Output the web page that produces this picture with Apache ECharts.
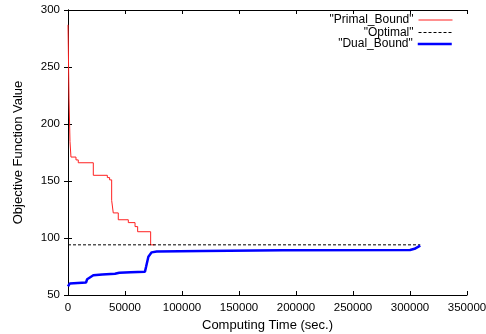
<!DOCTYPE html>
<html>
<head>
<meta charset="utf-8">
<script src="https://cdn.jsdelivr.net/npm/echarts@6/dist/echarts.min.js"></script>
<style>html,body{margin:0;padding:0;background:#fff;}#c{width:486px;height:334px;}</style>
</head>
<body>
<div id="c"></div>
<script>
// ---- data ----
const primalTime  = [0, 900, 1750, 2600, 7000, 9000, 22200, 34500, 36500, 38300, 39700, 44100, 52900, 58800, 61100, 72500, 76000];
const primalValue = [287, 222, 184.5, 171, 168.5, 166, 155, 153, 151, 133, 122, 116, 113.5, 110, 105.5, 94, 94];

const optimalTime  = [0, 309000];
const optimalValue = [94, 94];

const dualTime  = [0, 1500, 3000, 15800, 16800, 22200, 30000, 41200, 45000, 55000, 67500, 68500, 70500, 73400, 77800, 118000, 188000, 300000, 304000, 309000];
const dualValue = [57.5, 60, 60.8, 61, 63.8, 67.3, 68, 68.6, 69.5, 70, 70.5, 74.8, 83.6, 87.4, 88.2, 88.7, 89.3, 89.5, 90.5, 93.3];

const xTicks = [0, 50000, 100000, 150000, 200000, 250000, 300000, 350000];
const yTicks = [50, 100, 150, 200, 250, 300];

const seriesNames = ['"Primal_Bound"', '"Optimal"', '"Dual_Bound"'];

// ---- build ----
const zip = (a, b) => a.map((t, i) => [t, b[i]]);
const FONT = 'Liberation Sans';

const tickCfg = { show: true, inside: true, length: 4, lineStyle: { color: '#000', width: 1 } };
const axLine = { show: true, lineStyle: { color: '#000', width: 1 } };
const plain = v => String(v);

function legendFor(i, top, width) {
  return {
    data: [seriesNames[i]], right: 33, top: top, padding: 0, align: 'right',
    itemWidth: 34, itemHeight: 12,
    itemStyle: { opacity: 0 },
    textStyle: { color: '#000', fontSize: 12, fontFamily: FONT },
    lineStyle: { width: width }
  };
}

const chart = echarts.init(document.getElementById('c'), null, { renderer: 'canvas' });
chart.setOption({
  animation: false,
  backgroundColor: '#fff',
  grid: { left: 68, right: 19, top: 10, bottom: 39, containLabel: false, outerBoundsMode: 'none' },
  xAxis: [
    {
      type: 'value', min: xTicks[0], max: xTicks[xTicks.length - 1], interval: xTicks[1] - xTicks[0],
      position: 'bottom', axisLine: axLine, axisTick: tickCfg, splitLine: { show: false },
      axisLabel: { color: '#000', fontSize: 11.5, fontFamily: FONT, margin: 7, formatter: plain },
      name: 'Computing Time (sec.)', nameLocation: 'middle', nameGap: 23,
      nameTextStyle: { color: '#000', fontSize: 13, fontFamily: FONT }
    },
    {
      type: 'value', min: xTicks[0], max: xTicks[xTicks.length - 1], interval: xTicks[1] - xTicks[0],
      position: 'top', axisLine: axLine, axisTick: tickCfg, splitLine: { show: false },
      axisLabel: { show: false }
    }
  ],
  yAxis: [
    {
      type: 'value', min: yTicks[0], max: yTicks[yTicks.length - 1], interval: yTicks[1] - yTicks[0],
      position: 'left', axisLine: axLine, axisTick: tickCfg, splitLine: { show: false },
      axisLabel: { color: '#000', fontSize: 11.5, fontFamily: FONT, margin: 8, formatter: plain },
      name: 'Objective Function Value', nameLocation: 'middle', nameGap: 43, nameRotate: 90,
      nameTextStyle: { color: '#000', fontSize: 13, fontFamily: FONT }
    },
    {
      type: 'value', min: yTicks[0], max: yTicks[yTicks.length - 1], interval: yTicks[1] - yTicks[0],
      position: 'right', axisLine: axLine, axisTick: tickCfg, splitLine: { show: false },
      axisLabel: { show: false }
    }
  ],
  legend: [ legendFor(0, 14, 1), legendFor(1, 26.5, 1), legendFor(2, 38, 2.5) ],
  series: [
    {
      name: seriesNames[0], type: 'line', step: 'end', symbol: 'none', showSymbol: false,
      xAxisIndex: 0, yAxisIndex: 0,
      lineStyle: { color: '#ff2020', width: 1 }, itemStyle: { color: '#ff2020' },
      data: zip(primalTime, primalValue)
    },
    {
      name: seriesNames[1], type: 'line', symbol: 'none', showSymbol: false,
      xAxisIndex: 0, yAxisIndex: 0,
      lineStyle: { color: '#000', width: 1, type: [3, 2] }, itemStyle: { color: '#000' },
      data: zip(optimalTime, optimalValue)
    },
    {
      name: seriesNames[2], type: 'line', symbol: 'none', showSymbol: false,
      xAxisIndex: 0, yAxisIndex: 0,
      lineStyle: { color: '#0000ff', width: 2.5 }, itemStyle: { color: '#0000ff' },
      data: zip(dualTime, dualValue)
    }
  ]
});
</script>
</body>
</html>
